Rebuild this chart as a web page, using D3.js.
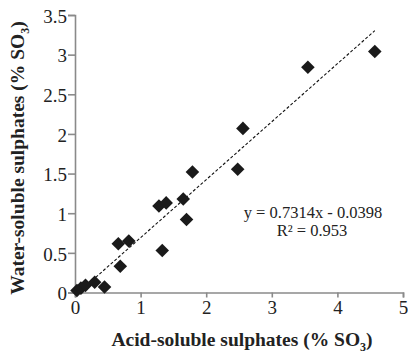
<!DOCTYPE html>
<html>
<head>
<meta charset="utf-8">
<script src="https://cdn.jsdelivr.net/npm/d3@7"></script>
<style>
  body { margin: 0; background: #fff; }
  text { font-family: "Liberation Serif", "Times New Roman", serif; }
</style>
</head>
<body>
<div></div>
<script>
// measured points: acid-soluble vs water-soluble sulphates (% SO3)
const acid = [0.03, 0.09, 0.16, 0.3, 0.45, 0.66, 0.69, 0.82, 1.28, 1.33, 1.39, 1.65, 1.7, 1.79, 2.48, 2.56, 3.55, 4.57];
const water = [0.025, 0.055, 0.09, 0.13, 0.07, 0.615, 0.33, 0.65, 1.09, 0.53, 1.13, 1.18, 0.92, 1.52, 1.555, 2.07, 2.84, 3.04];
const xTicks = [0, 1, 2, 3, 4, 5];
const yTicks = [0, 0.5, 1, 1.5, 2, 2.5, 3, 3.5];
const slope = 0.7314;
const intercept = -0.0398;
const r2 = "0.953";

const w = 408;
const h = 355;
const padL = 75, padR = 403, padT = 15, padB = 292.5;

const svg = d3.select("div").append("svg").attr("width", w).attr("height", h);

const xScale = d3.scaleLinear().domain([0, 5]).range([padL, padR]);
const yScale = d3.scaleLinear().domain([0, 3.5]).range([padB, padT]);

const xAxis = d3.axisBottom(xScale).tickValues(xTicks).tickFormat(d3.format("d")).tickSizeOuter(0).tickSize(5).tickPadding(3);
const yAxis = d3.axisLeft(yScale).tickValues(yTicks).tickFormat((d) => d).tickSizeOuter(0).tickSize(7).tickPadding(1);

const gx = svg.append("g").attr("transform", "translate(0," + padB + ")").call(xAxis);
const gy = svg.append("g").attr("transform", "translate(" + padL + ",0)").call(yAxis);

[gx, gy].forEach((g) => {
  g.selectAll("path, line").attr("stroke", "#8a8a8a").attr("stroke-width", 1.6);
  g.selectAll("text").attr("fill", "#222").style("font-size", "19px");
});
gy.selectAll("text").attr("dy", "0.38em");

// trendline
const x0 = d3.min(acid), x1 = d3.max(acid);
svg.append("line")
  .attr("x1", xScale(x0)).attr("y1", yScale(slope * x0 + intercept))
  .attr("x2", xScale(x1)).attr("y2", yScale(slope * x1 + intercept))
  .attr("stroke", "#111").attr("stroke-width", 1.1).attr("stroke-dasharray", "3,2");

// diamonds
const diamond = d3.symbol().type(d3.symbolSquare).size(92);
svg.selectAll(".pt")
  .data(acid)
  .enter()
  .append("path")
  .attr("class", "pt")
  .attr("d", diamond)
  .attr("transform", (d, i) => "translate(" + xScale(d) + "," + yScale(water[i]) + ") rotate(45)")
  .attr("fill", "#1a1a1a");

// equation
svg.append("text").attr("x", 313).attr("y", 218).attr("text-anchor", "middle")
  .style("font-size", "16.5px").attr("fill", "#222")
  .text("y = " + slope + "x - " + Math.abs(intercept));
svg.append("text").attr("x", 312).attr("y", 236).attr("text-anchor", "middle")
  .style("font-size", "16.5px").attr("fill", "#222")
  .text("R\u00B2 = " + r2);

// axis titles
const xt = svg.append("text").attr("x", 242).attr("y", 346).attr("text-anchor", "middle")
  .style("font-size", "19.5px").style("font-weight", "bold").attr("fill", "#222");
xt.append("tspan").text("Acid-soluble sulphates (% SO");
xt.append("tspan").text("3").style("font-size", "12px").attr("dy", 5);
xt.append("tspan").text(")").attr("dy", -5);

const yt = svg.append("text").attr("transform", "translate(24,158) rotate(-90)").attr("text-anchor", "middle")
  .style("font-size", "19.5px").style("font-weight", "bold").attr("fill", "#222");
yt.append("tspan").text("Water-soluble sulphates (% SO");
yt.append("tspan").text("3").style("font-size", "12px").attr("dy", 5);
yt.append("tspan").text(")").attr("dy", -5);
</script>
</body>
</html>
